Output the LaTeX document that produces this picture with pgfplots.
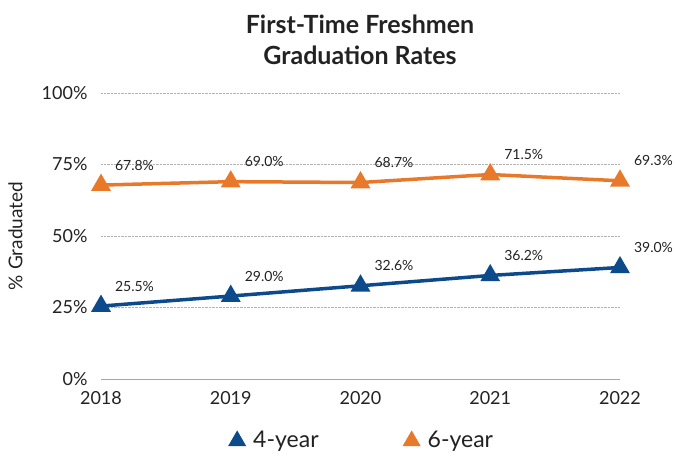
\documentclass[border=0pt]{standalone}
\usepackage{pgfplots}
\pgfplotsset{compat=1.18}
\usepackage{fontspec}
\setmainfont{Lato}
\definecolor{myorange}{HTML}{E8792A}
\definecolor{myblue}{HTML}{0D4A8C}
\definecolor{txt}{HTML}{222222}
\begin{document}
\begin{tikzpicture}[x=1pt,y=1pt]
\path[use as bounding box] (0,0) rectangle (675,455);
\node[align=center, font=\fontsize{25}{31}\selectfont\bfseries, text=txt] at (360,415) {First-Time Freshmen\\Graduation Rates};
\begin{axis}[
  at={(101pt,76pt)}, anchor=south west,
  scale only axis, width=519pt, height=286pt,
  xmin=2018, xmax=2022, ymin=0, ymax=100,
  xtick={2018,2019,2020,2021,2022},
  ytick={0,25,50,75,100},
  /pgf/number format/assume math mode=true,
  /pgf/number format/1000 sep={},
  yticklabel={\pgfmathprintnumber{\tick}\%},
  tick label style={font=\fontsize{18}{20}\selectfont, text=txt},
  xticklabel style={yshift=-9pt},
  yticklabel style={xshift=-10pt},
  axis x line*=bottom,
  axis y line*=left,
  y axis line style={draw=none},
  x axis line style={draw=gray!70, line width=0.8pt, -},
  major tick length=0pt,
  ymajorgrids,
  grid style={densely dotted, gray!60, line width=0.5pt},
  ylabel={\% Graduated},
  ylabel style={font=\fontsize{19}{21}\selectfont, text=txt, at={(axis description cs:-0.165,0.5)}, anchor=center},
  clip=false,
  nodes near coords={\pgfmathprintnumber[fixed,fixed zerofill,precision=1]{\pgfplotspointmeta}\%},
  every node near coord/.style={anchor=west, xshift=9pt, yshift=20pt, font=\fontsize{14}{16}\selectfont, text=txt},
  legend columns=2,
  legend style={at={(0.505,-0.213)}, anchor=center, draw=none, font=\fontsize{23}{25}\selectfont, text=txt,
    /tikz/every odd column/.append style={column sep=8pt},
    /tikz/every even column/.append style={column sep=85pt}},
  legend image code/.code={\draw[mark=triangle*, mark size=7pt, #1] plot coordinates {(0pt,-1pt)};},
]
\addplot[myblue, line width=3.5pt, mark=triangle*, mark size=8pt, mark options={solid}] coordinates {
(2018,25.5) (2019,29.0) (2020,32.6) (2021,36.2) (2022,39.0)};
\addlegendentry{4-year}
\addplot[myorange, line width=3.5pt, mark=triangle*, mark size=8pt, mark options={solid}] coordinates {
(2018,67.8) (2019,69.0) (2020,68.7) (2021,71.5) (2022,69.3)};
\addlegendentry{6-year}
\end{axis}
\end{tikzpicture}
\end{document}
